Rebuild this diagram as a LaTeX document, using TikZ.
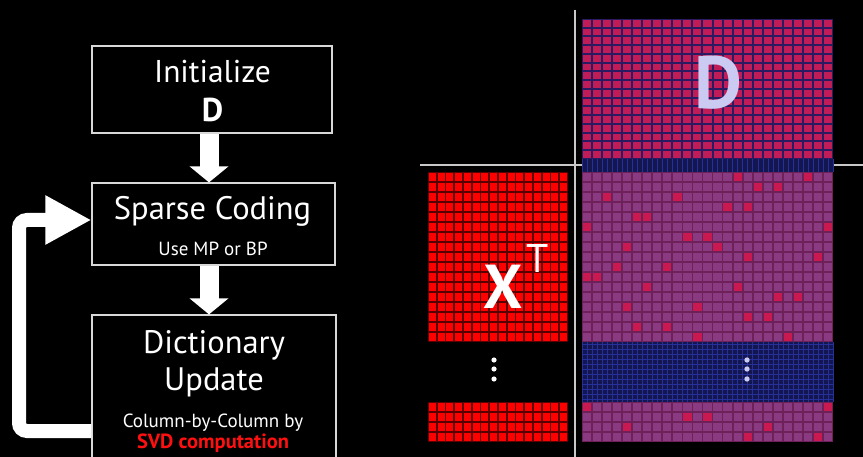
\documentclass[tikz,border=0pt]{standalone}
\usepackage{fontspec}
\setmainfont{PT Sans}
\usetikzlibrary{arrows.meta}

\definecolor{boxline}{HTML}{D8D8D8}
\definecolor{sepline}{HTML}{C8C8C8}
\definecolor{dcell}{HTML}{C01C58}
\definecolor{dgap}{HTML}{2A1A62}
\definecolor{pcell}{HTML}{8A3A80}
\definecolor{pgap}{HTML}{6E2058}
\definecolor{phot}{HTML}{C81A50}
\definecolor{xcell}{HTML}{FF0000}
\definecolor{xgap}{HTML}{5A0000}
\definecolor{band}{HTML}{141650}
\definecolor{bandline}{HTML}{26309A}
\definecolor{lav}{HTML}{CACAF2}
\definecolor{svdred}{HTML}{FF1010}

% grid of cells: x0, y0, last column, last row, cell width, cell height, half gap, fill
\newcommand\cellgrid[8]{%
  \foreach \i in {0,...,#3}{%
    \foreach \j in {0,...,#4}{%
      \fill[#8] ({#1+\i*#5+#7},{#2+\j*#6+#7}) rectangle ({#1+(\i+1)*#5-#7},{#2+(\j+1)*#6-#7});
    }}}

\tikzset{
  stepbox/.style={draw=boxline, line width=1.2pt, fill=black, rectangle, inner sep=0pt},
  bigtxt/.style={text=white, font=\fontsize{32.5}{32.5}\selectfont, anchor=base, inner sep=0pt},
  smalltxt/.style={text=white, font=\fontsize{19}{19}\selectfont, anchor=base, inner sep=0pt},
  blockarrow/.style={white, line width=19pt, -{Triangle[width=38pt,length=16pt]}},
  loopback/.style={white, line width=14pt, rounded corners=8pt, -{Triangle[width=46pt,length=46pt]}},
  sep/.style={sepline, line width=1.4pt},
  dotw/.style={fill=white},
  dotl/.style={fill=lav},
}

\begin{document}
\begin{tikzpicture}[x=1pt,y=-1pt]
\fill[black] (0,0) rectangle (863,457);
\useasboundingbox (0,0) rectangle (863,457);

% ---- flow chart ----
\node[stepbox, minimum width=240pt, minimum height=87pt] (init) at (212,89.5) {};
\node[stepbox, minimum width=243pt, minimum height=82pt] (sparse) at (213.5,224) {};
\node[stepbox, minimum width=244pt, minimum height=150pt] (dict) at (214,390) {};

\node[bigtxt, font=\fontsize{31.5}{31.5}\selectfont] (tinit) at (212.5,83) {Initialize};
\node[bigtxt, font=\fontsize{33}{33}\selectfont\bfseries] (tinitd) at (212.5,122) {D};
\node[bigtxt] (tsparse) at (212.5,220) {Sparse Coding};
\node[smalltxt] (tmp) at (213,256) {Use MP or BP};
\node[bigtxt] (tdict) at (214,353) {Dictionary};
\node[bigtxt] (tupd) at (214,390) {Update};
\node[smalltxt] (tcol) at (213,427) {Column-by-Column by};
\node[smalltxt, text=svdred, font=\fontsize{20.5}{20.5}\selectfont\bfseries] (tsvd) at (213,448) {SVD computation};

\coordinate (a1s) at (init.south -| 209,0);
\coordinate (a1e) at (sparse.north -| 209,0);
\coordinate (a2s) at (sparse.south -| 209,0);
\coordinate (a2e) at (dict.north -| 209,0);
\draw[blockarrow] (a1s) -- (a1e);
\draw[blockarrow] (a2s) -- (a2e);

\coordinate (fbstart) at (dict.west |- 0,431);
\coordinate (fbend) at (sparse.west |- 0,220);
\draw[loopback] (fbstart) -- (19,431) -- (19,220) -- (fbend);

% ---- separators ----
\draw[sep] (575,10) -- (575,457);
\draw[sep] (420,165) -- (863,165);

% ---- dictionary D ----
\fill[dgap] (582,19) rectangle (833,159);
\cellgrid{582}{19}{24}{15}{10.04}{8.75}{1.0}{dcell}
\fill[band] (582,159) rectangle (833,172);
\foreach \i in {0,...,50}{\draw[bandline, line width=0.4pt] ({582+\i*5.02},159) -- ({582+\i*5.02},172);}
\node[text=lav, font=\fontsize{74}{74}\selectfont\bfseries, anchor=base, inner sep=0pt] (dlabel) at (718,109) {D};

% ---- X transpose ----
\fill[xgap] (428,172) rectangle (568,342);
\cellgrid{428}{172}{15}{16}{8.75}{10}{0.9}{xcell}
\fill[xgap] (428,402) rectangle (568,442);
\cellgrid{428}{402}{15}{3}{8.75}{10}{0.9}{xcell}
\node[text=white, font=\fontsize{62}{62}\selectfont\bfseries, anchor=base, inner sep=0pt] (xlabel) at (503,309) {X};
\node[text=white, font=\fontsize{40}{40}\selectfont, anchor=base, inner sep=0pt] (tlabel) at (538,273) {T};
\foreach \y in {360,369,379}{\fill[dotw] (494,\y) circle (2.6);}

% ---- product D X^T ----
\fill[pgap] (582,172) rectangle (833,342);
\cellgrid{582}{172}{24}{16}{10.04}{10}{0.9}{pcell}
\foreach \c/\r in {15/0,22/0,17/1,19/1,2/2,9/2,14/3,16/3,5/4,6/4,0/5,24/5,10/6,12/6,4/7,13/7,16/8,23/8,3/9,8/9,0/10,1/10,6/11,15/11,19/12,21/12,4/13,11/13,16/14,18/14,5/15,8/15,11/16,20/16}{
  \fill[phot] ({582+\c*10.04+0.9},{172+\r*10+0.9}) rectangle ({582+(\c+1)*10.04-0.9},{172+(\r+1)*10-0.9});}
\fill[band] (582,342) rectangle (833,402);
\foreach \i in {0,...,50}{\draw[bandline, line width=0.4pt] ({582+\i*5.02},342) -- ({582+\i*5.02},402);}
\foreach \j in {0,...,11}{\draw[bandline, line width=0.3pt] (582,{342+\j*5+2.5}) -- (833,{342+\j*5+2.5});}
\foreach \y in {360,369,379}{\fill[dotl] (747,\y) circle (2.7);}
\fill[pgap] (582,402) rectangle (833,442);
\cellgrid{582}{402}{24}{3}{10.04}{10}{0.9}{pcell}
\foreach \c/\r in {0/0,24/0,10/1,12/1,4/2,18/2,16/3,23/3}{
  \fill[phot] ({582+\c*10.04+0.9},{402+\r*10+0.9}) rectangle ({582+(\c+1)*10.04-0.9},{402+(\r+1)*10-0.9});}
\end{tikzpicture}
\end{document}
